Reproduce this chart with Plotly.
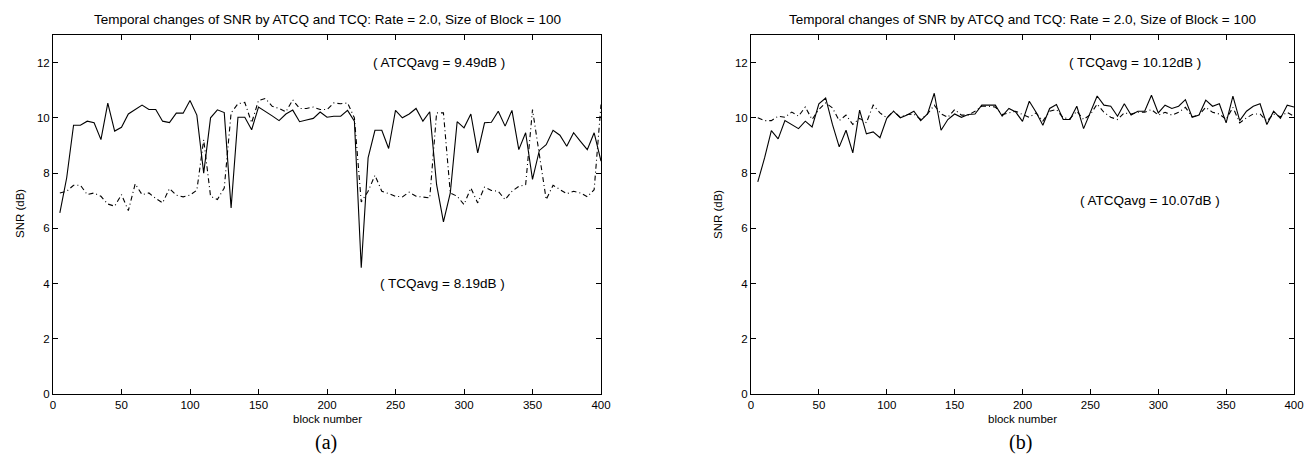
import plotly.graph_objects as go

# ---------------- data ----------------
blocks = list(range(5, 405, 5))

# (a) left panel
atcq_a = [6.56, 7.83, 9.73, 9.73, 9.88, 9.82, 9.21, 10.53, 9.52, 9.66,
          10.14, 10.29, 10.46, 10.30, 10.30, 9.88, 9.83, 10.17, 10.17, 10.63,
          10.10, 8.00, 10.00, 10.29, 10.19, 6.74, 10.02, 10.02, 9.57, 10.39,
          10.24, 10.07, 9.90, 10.14, 10.28, 9.86, 9.92, 9.98, 10.21, 10.02,
          10.06, 10.06, 10.27, 9.88, 4.57, 8.55, 9.55, 9.55, 8.89, 10.27,
          10.00, 10.14, 10.34, 9.88, 10.22, 7.58, 6.23, 7.28, 9.86, 9.64,
          10.14, 8.73, 9.82, 9.84, 10.24, 9.70, 10.27, 8.85, 9.46, 7.77,
          8.82, 9.03, 9.55, 9.37, 8.97, 9.46, 9.15, 8.85, 9.46, 8.43]
tcq_a = [7.28, 7.34, 7.56, 7.56, 7.22, 7.28, 7.16, 6.88, 6.80, 7.22,
         6.64, 7.61, 7.22, 7.28, 7.08, 6.92, 7.44, 7.20, 7.14, 7.20,
         7.38, 9.21, 7.16, 7.04, 7.46, 10.18, 10.51, 10.56, 9.82, 10.63,
         10.70, 10.42, 10.34, 10.22, 10.65, 10.34, 10.34, 10.39, 10.30, 10.30,
         10.54, 10.51, 10.54, 10.00, 6.95, 7.34, 7.92, 7.34, 7.26, 7.16,
         7.14, 7.31, 7.16, 7.14, 7.10, 10.18, 10.18, 7.28, 7.16, 6.86,
         7.46, 6.92, 7.49, 7.37, 7.34, 7.04, 7.34, 7.52, 7.58, 10.30,
         8.65, 7.04, 7.56, 7.40, 7.25, 7.34, 7.28, 7.14, 7.40, 10.48]

# (b) right panel
atcq_b = [7.68, 8.55, 9.54, 9.24, 9.90, 9.76, 9.61, 9.88, 9.67, 10.51,
          10.72, 9.76, 8.95, 9.55, 8.73, 10.28, 9.42, 9.49, 9.28, 9.98,
          10.24, 10.00, 10.10, 10.24, 9.90, 10.14, 10.89, 9.55, 9.94, 10.14,
          10.02, 10.12, 10.14, 10.46, 10.46, 10.46, 10.06, 10.34, 10.21, 9.87,
          10.60, 10.20, 9.73, 10.34, 10.48, 9.94, 9.94, 10.42, 9.61, 10.18,
          10.79, 10.46, 10.42, 10.06, 10.51, 10.10, 10.24, 10.24, 10.82, 10.18,
          10.46, 10.34, 10.42, 10.66, 10.02, 10.10, 10.64, 10.42, 10.51, 9.82,
          10.79, 9.90, 10.24, 10.42, 10.51, 9.76, 10.24, 9.98, 10.46, 10.39]
tcq_b = [10.00, 9.90, 9.90, 10.06, 10.02, 10.21, 10.06, 10.39, 9.94, 10.30,
         10.54, 10.36, 9.90, 10.10, 9.76, 9.98, 9.82, 10.46, 10.18, 10.00,
         10.24, 10.02, 10.12, 10.14, 9.94, 10.14, 10.46, 10.14, 10.02, 10.30,
         10.10, 10.10, 10.24, 10.42, 10.42, 10.39, 10.12, 10.18, 10.24, 10.12,
         10.02, 10.18, 9.88, 10.24, 10.30, 10.00, 9.97, 10.24, 9.94, 10.12,
         10.50, 10.20, 10.02, 9.94, 10.18, 10.14, 10.20, 10.20, 10.30, 10.10,
         10.20, 10.10, 10.20, 10.38, 10.04, 10.10, 10.38, 10.20, 10.14, 9.94,
         10.38, 9.82, 10.00, 10.14, 10.14, 9.88, 10.14, 10.04, 10.20, 10.06]

title_text = "Temporal changes of SNR by ATCQ and TCQ: Rate = 2.0, Size of Block = 100"
x_ticks = [0, 50, 100, 150, 200, 250, 300, 350, 400]
y_ticks = [0, 2, 4, 6, 8, 10, 12]

# ---------------- figure ----------------
W, H = 1315, 456
fig = go.Figure()

solid = dict(color="black", width=1.1)
dashdot = dict(color="black", width=1.1, dash="5px,3px,1px,3px")

fig.add_trace(go.Scatter(x=blocks, y=atcq_a, mode="lines", line=solid, xaxis="x", yaxis="y"))
fig.add_trace(go.Scatter(x=blocks, y=tcq_a, mode="lines", line=dashdot, xaxis="x", yaxis="y"))
fig.add_trace(go.Scatter(x=blocks, y=atcq_b, mode="lines", line=solid, xaxis="x2", yaxis="y2"))
fig.add_trace(go.Scatter(x=blocks, y=tcq_b, mode="lines", line=dashdot, xaxis="x2", yaxis="y2"))

def px_x(p):
    return p / W

def px_y(p):
    return (H - p) / H

sans = "Liberation Sans, Arial, sans-serif"
tickfont = dict(family=sans, size=11.5, color="black")

axis_common = dict(showline=True, linecolor="black", linewidth=1, mirror="ticks",
                   ticks="inside", ticklen=5, tickcolor="black", tickwidth=1,
                   showgrid=False, zeroline=False, tickfont=tickfont, automargin=False)

ydom = [px_y(386), px_y(27)]
fig.update_layout(
    width=W, height=H,
    margin=dict(l=0, r=0, t=0, b=0),
    paper_bgcolor="white", plot_bgcolor="white",
    showlegend=False,
    xaxis=dict(domain=[px_x(45), px_x(593)], range=[0, 400], tickvals=x_ticks,
               anchor="y", **axis_common),
    yaxis=dict(domain=ydom, range=[0, 13], tickvals=y_ticks, anchor="x", **axis_common),
    xaxis2=dict(domain=[px_x(743), px_x(1286)], range=[0, 400], tickvals=x_ticks,
                anchor="y2", **axis_common),
    yaxis2=dict(domain=ydom, range=[0, 13], tickvals=y_ticks, anchor="x2", **axis_common),
)

titlefont = dict(family=sans, size=13.5, color="black")
labfont = dict(family=sans, size=11.5, color="black")
annfont = dict(family=sans, size=13.5, color="black")
ann = []
# titles
for cx in (319, 1014):
    ann.append(dict(x=px_x(cx), y=px_y(12), xref="paper", yref="paper", text=title_text,
                    showarrow=False, font=titlefont, xanchor="center", yanchor="middle"))
# x axis titles
for cx in (319, 1014):
    ann.append(dict(x=px_x(cx), y=px_y(411), xref="paper", yref="paper", text="block number",
                    showarrow=False, font=labfont, xanchor="center", yanchor="middle"))
# y axis titles
for cx in (12, 710):
    ann.append(dict(x=px_x(cx), y=px_y(206), xref="paper", yref="paper", text="SNR (dB)",
                    showarrow=False, font=labfont, textangle=-90, xanchor="center", yanchor="middle"))
# panel labels
serif = dict(family="Liberation Serif, DejaVu Serif, serif", size=20, color="black")
ann.append(dict(x=px_x(318), y=px_y(434), xref="paper", yref="paper", text="(a)",
                showarrow=False, font=serif, xanchor="center", yanchor="middle"))
ann.append(dict(x=px_x(1013), y=px_y(434), xref="paper", yref="paper", text="(b)",
                showarrow=False, font=serif, xanchor="center", yanchor="middle"))
# averages
ann.append(dict(x=282, y=12, xref="x", yref="y", text="( ATCQavg = 9.49dB )",
                showarrow=False, font=annfont, xanchor="center", yanchor="middle"))
ann.append(dict(x=284, y=4, xref="x", yref="y", text="( TCQavg = 8.19dB )",
                showarrow=False, font=annfont, xanchor="center", yanchor="middle"))
ann.append(dict(x=283, y=12, xref="x2", yref="y2", text="( TCQavg = 10.12dB )",
                showarrow=False, font=annfont, xanchor="center", yanchor="middle"))
ann.append(dict(x=294, y=7, xref="x2", yref="y2", text="( ATCQavg = 10.07dB )",
                showarrow=False, font=annfont, xanchor="center", yanchor="middle"))
fig.update_layout(annotations=ann)

fig.write_html("out.html")
